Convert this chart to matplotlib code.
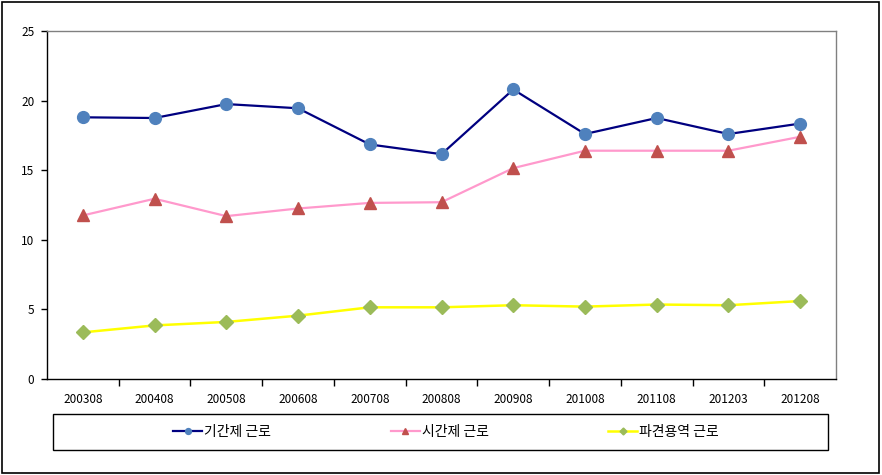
import matplotlib
matplotlib.use("Agg")
import matplotlib.pyplot as plt
from matplotlib.patches import Rectangle

plt.rcParams['font.family'] = ['Noto Sans CJK KR', 'DejaVu Sans']

categories = ["200308", "200408", "200508", "200608", "200708", "200808",
              "200908", "201008", "201108", "201203", "201208"]
fixed_term = [18.8, 18.75, 19.75, 19.45, 16.85, 16.15, 20.8, 17.6, 18.75, 17.6, 18.35]
part_time = [11.75, 12.95, 11.7, 12.25, 12.65, 12.7, 15.15, 16.4, 16.4, 16.4, 17.4]
dispatch = [3.35, 3.85, 4.1, 4.55, 5.15, 5.15, 5.3, 5.2, 5.35, 5.3, 5.6]
series_names = ["기간제 근로", "시간제 근로", "파견용역 근로"]
y_ticks = [0, 5, 10, 15, 20, 25]

fig = plt.figure(figsize=(8.82, 4.75), dpi=100)
ax = fig.add_axes([47/882, 1-379/475, 789/882, 348/475])

x = list(range(len(categories)))
l1, = ax.plot(x, fixed_term, color="#000080", lw=1.6, marker="o", ms=8.5,
              mfc="#4F81BD", mec="#4F81BD", label=series_names[0])
l2, = ax.plot(x, part_time, color="#FF99CC", lw=1.6, marker="^", ms=8.5,
              mfc="#C0504D", mec="#C0504D", label=series_names[1])
l3, = ax.plot(x, dispatch, color="#FFFF00", lw=1.8, marker="D", ms=7,
              mfc="#9BBB59", mec="#9BBB59", label=series_names[2])

ax.set_xlim(-0.5, len(categories)-0.5)
ax.set_ylim(0, 25)
ax.set_yticks(y_ticks)
ax.set_yticklabels([str(v) for v in y_ticks], fontsize=8.5)
ax.set_xticks([i - 0.5 for i in range(1, len(categories))])
ax.set_xticklabels([])
ax.set_xticks(x, minor=True)
ax.set_xticklabels(categories, minor=True, fontsize=8.5)
ax.tick_params(axis="x", which="minor", length=0, pad=10)
ax.tick_params(axis="x", which="major", length=5, direction="out", width=1)
ax.tick_params(axis="y", length=4, direction="out", width=1, pad=5)
for s in ["left", "bottom"]:
    ax.spines[s].set_color("black")
    ax.spines[s].set_linewidth(1)
for s in ["top", "right"]:
    ax.spines[s].set_color("#808080")
    ax.spines[s].set_linewidth(1)

# legend frame
fig.patches.append(Rectangle((53/882, 1-450/475), 775/882, 36/475,
                             transform=fig.transFigure, fill=False,
                             edgecolor="black", lw=1))
leg = fig.legend(handles=[l1, l2, l3], loc="center",
                 bbox_to_anchor=(446/882, 1-432/475),
                 ncol=3, frameon=False, fontsize=10, markerscale=0.5,
                 handlelength=2.1, handletextpad=0.15, columnspacing=8.6,
                 borderaxespad=0)

fig.patches.append(Rectangle((2/882, 2/475), 877/882, 471/475,
                             transform=fig.transFigure, fill=False,
                             edgecolor="black", lw=1.2))

fig.savefig("out.png", dpi=100)
